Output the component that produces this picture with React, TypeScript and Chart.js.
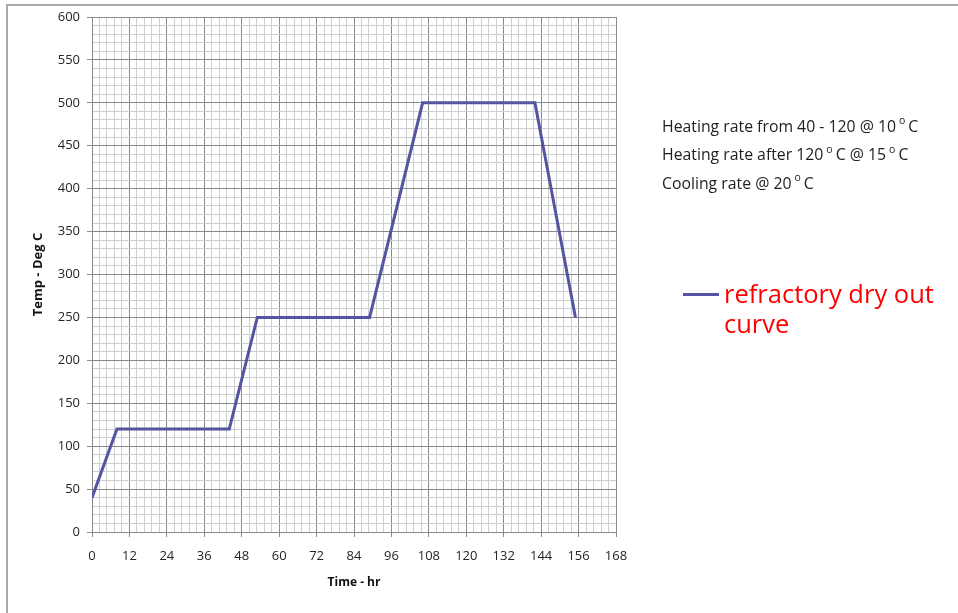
import React, { useEffect, useRef } from 'react';
import { Chart, registerables } from 'chart.js';

Chart.register(...registerables);

// ---- data ----
const timeHr = [0, 8, 44, 53, 89, 106, 142, 155];
const tempC = [40, 120, 120, 250, 250, 500, 500, 250];
const seriesLabel = ['refractory dry out', 'curve'];
const xTickLabels = ['0', '12', '24', '36', '48', '60', '72', '84', '96', '108', '120', '132', '144', '156', '168'];
const yTickLabels = ['0', '50', '100', '150', '200', '250', '300', '350', '400', '450', '500', '550', '600'];
const xTitle = 'Time - hr';
const yTitle = 'Temp - Deg C';
const minorPerMajor = 5;
// notes: text segments, sup = superscript degree mark
const note1 = [{ t: 'Heating rate from 40 - 120 @ 10' }, { t: 'o', sup: true }, { t: 'C' }];
const note2 = [{ t: 'Heating rate after 120' }, { t: 'o', sup: true }, { t: 'C @ 15' }, { t: 'o', sup: true }, { t: 'C' }];
const note3 = [{ t: 'Cooling rate @ 20' }, { t: 'o', sup: true }, { t: 'C' }];
const notes = [note1, note2, note3];

const LINE_COLOR = '#5454A2';
const MAJOR = '#8a8a8a';
const MINOR = '#cfcfcf';
const FONT = '"Open Sans", "Liberation Sans", sans-serif';

function minorTicks(labels: string[]) {
  const majors = labels.map(Number);
  const out: { value: number }[] = [];
  for (let i = 0; i < majors.length; i++) {
    out.push({ value: majors[i] });
    if (i < majors.length - 1) {
      const step = (majors[i + 1] - majors[i]) / minorPerMajor;
      for (let k = 1; k < minorPerMajor; k++) out.push({ value: majors[i] + step * k });
    }
  }
  return out;
}

const overlay = {
  id: 'overlay',
  afterDraw(chart: any) {
    const ctx = chart.ctx as CanvasRenderingContext2D;
    ctx.save();
    ctx.textBaseline = 'alphabetic';
    ctx.textAlign = 'left';
    ctx.fillStyle = '#1e1e1e';
    notes.forEach((segs: any[], i) => {
      let x = 662;
      const y = 131.5 + i * 28.5;
      segs.forEach((s) => {
        if (s.sup) {
          ctx.font = `10.5px ${FONT}`;
          x += 3;
          ctx.fillText(s.t, x, y - 7.5);
          x += ctx.measureText(s.t).width + 3;
        } else {
          ctx.font = `15.8px ${FONT}`;
          ctx.fillText(s.t, x, y);
          x += ctx.measureText(s.t).width;
        }
      });
    });
    // legend
    const ds = chart.data.datasets[0];
    ctx.strokeStyle = ds.borderColor;
    ctx.lineWidth = 3;
    ctx.beginPath();
    ctx.moveTo(683, 294.5);
    ctx.lineTo(719, 294.5);
    ctx.stroke();
    ctx.fillStyle = '#ff0000';
    ctx.font = `25.5px ${FONT}`;
    seriesLabel.forEach((l, i) => ctx.fillText(l, 724, 303 + i * 30));
    ctx.restore();
  },
};

export default function App() {
  const ref = useRef<HTMLCanvasElement>(null);
  useEffect(() => {
    Chart.defaults.font.family = FONT;
    const chart = new Chart(ref.current!, {
      type: 'line',
      data: {
        datasets: [
          {
            label: seriesLabel.join(' '),
            data: timeHr.map((t, i) => ({ x: t, y: tempC[i] })),
            borderColor: LINE_COLOR,
            backgroundColor: LINE_COLOR,
            borderWidth: 3,
            pointRadius: 0,
            tension: 0,
            fill: false,
          },
        ],
      },
      options: {
        animation: false,
        responsive: false,
        devicePixelRatio: 1,
        layout: { padding: { top: 17, right: 342, left: 0, bottom: 0 } },
        plugins: { legend: { display: false }, tooltip: { enabled: false } },
        scales: {
          x: {
            type: 'linear',
            min: 0,
            max: Number(xTickLabels[xTickLabels.length - 1]),
            afterBuildTicks: (scale: any) => {
              scale.ticks = minorTicks(xTickLabels);
            },
            afterFit: (scale: any) => {
              scale.height = 81;
            },
            ticks: {
              autoSkip: false,
              maxRotation: 0,
              padding: 11,
              color: '#262626',
              font: { size: 13 },
              callback: (_v: any, index: number) =>
                index % minorPerMajor === 0 ? xTickLabels[index / minorPerMajor] : '',
            },
            grid: {
              color: (c: any) => (c.index % minorPerMajor === 0 ? MAJOR : MINOR),
              tickColor: (c: any) => (c.index % minorPerMajor === 0 ? MAJOR : 'rgba(0,0,0,0)'),
              tickLength: 5,
              lineWidth: 1,
            },
            border: { color: MAJOR, width: 1 },
            title: {
              display: true,
              text: xTitle,
              color: '#111',
              font: { size: 12, weight: 'bold' },
              padding: { top: 0, bottom: 23 },
            },
          },
          y: {
            type: 'linear',
            min: 0,
            max: Number(yTickLabels[yTickLabels.length - 1]),
            afterBuildTicks: (scale: any) => {
              scale.ticks = minorTicks(yTickLabels);
            },
            afterFit: (scale: any) => {
              scale.width = 92;
            },
            ticks: {
              autoSkip: false,
              padding: 7,
              color: '#262626',
              font: { size: 13 },
              callback: (_v: any, index: number) =>
                index % minorPerMajor === 0 ? yTickLabels[index / minorPerMajor] : '',
            },
            grid: {
              color: (c: any) => (c.index % minorPerMajor === 0 ? MAJOR : MINOR),
              tickColor: (c: any) => (c.index % minorPerMajor === 0 ? MAJOR : 'rgba(0,0,0,0)'),
              tickLength: 5,
              lineWidth: 1,
            },
            border: { color: MAJOR, width: 1 },
            title: {
              display: true,
              text: yTitle,
              color: '#111',
              font: { size: 13, weight: 'bold' },
              padding: { top: 30, bottom: 0 },
            },
          },
        },
      },
      plugins: [overlay],
    } as any);
    return () => chart.destroy();
  }, []);

  return (
    <div style={{ position: 'fixed', left: 0, top: 0, width: 958, height: 613, background: '#fff', overflow: 'hidden' }}>
      <canvas ref={ref} width={958} height={613} style={{ position: 'absolute', left: 0, top: 0, width: 958, height: 613 }} />
      <div
        style={{
          position: 'absolute',
          left: 6,
          top: 4,
          width: 960,
          height: 620,
          borderTop: '2px solid #a9a9a9',
          borderLeft: '2px solid #a9a9a9',
        }}
      />
    </div>
  );
}
